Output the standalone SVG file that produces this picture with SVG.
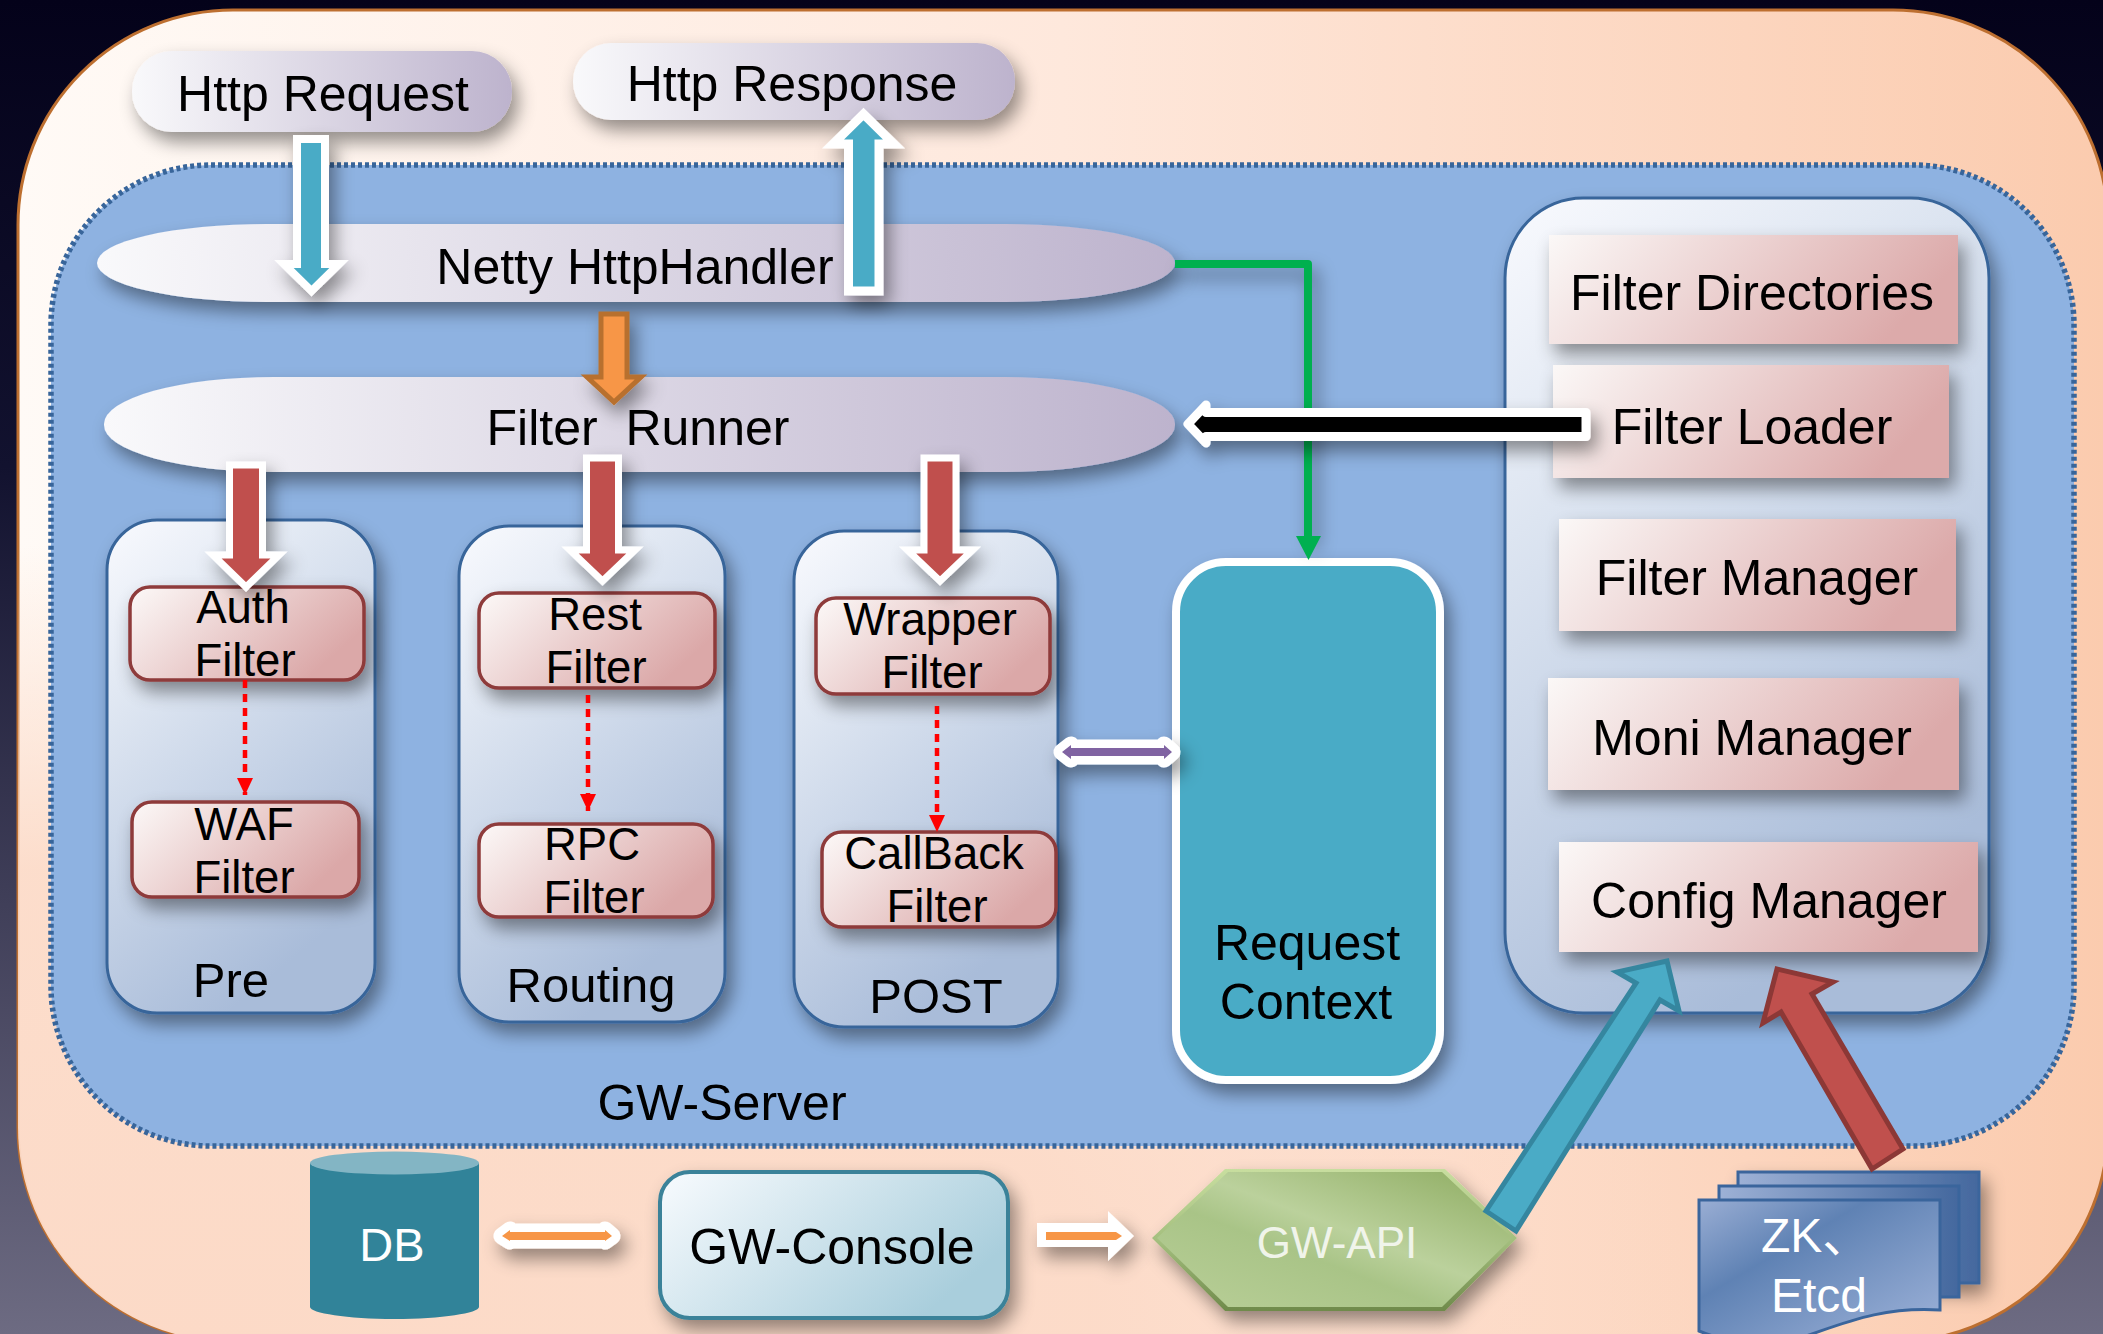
<svg xmlns="http://www.w3.org/2000/svg" width="2103" height="1334" viewBox="0 0 2103 1334">
<style>
text{font-family:"Liberation Sans",Arial,"Noto Sans CJK SC",sans-serif;font-size:50px;text-anchor:middle;fill:#000}
.f{font-size:45.5px}
.l{font-size:49px}
.w{fill:#fff}
.sh{filter:url(#s)}
.pill{fill:url(#gPill)}
.col{fill:url(#gCol);stroke:#38659a;stroke-width:3}
.fb{fill:url(#gRed);stroke:#8e3a3a;stroke-width:3.5}
.mg{fill:url(#gRedSq)}
.a-w{stroke:#fff;stroke-miterlimit:8}
.teal{fill:#4aabc6}
.red{fill:#c0504d}
.dot{fill:none;stroke:#f00;stroke-width:4.5;stroke-dasharray:8 6;marker-end:url(#mRed)}
.dbl{stroke:#fff;stroke-width:17;stroke-linejoin:round;paint-order:stroke}
.doc{stroke:#3a659c;stroke-width:3}
</style>
<defs>
<filter id="s" x="0" y="0" width="2103" height="1334" filterUnits="userSpaceOnUse"><feDropShadow dx="6" dy="10" stdDeviation="9" flood-color="#000" flood-opacity="0.42"/></filter>
<linearGradient id="gBg" x1="0" y1="0" x2="0" y2="1"><stop offset="0" stop-color="#04021a"/><stop offset=".35" stop-color="#12122f"/><stop offset="1" stop-color="#6d6b82"/></linearGradient>
<linearGradient id="gOuter" x1="0" y1="0" x2="1" y2="0"><stop offset="0" stop-color="#fffaf6"/><stop offset=".5" stop-color="#fee8dc"/><stop offset="1" stop-color="#fbcbae"/></linearGradient>
<radialGradient id="gOuter2" gradientUnits="userSpaceOnUse" cx="200" cy="1340" r="1" gradientTransform="translate(200 1340) scale(1500 800) translate(-200 -1340)"><stop offset="0" stop-color="#fcdac7" stop-opacity="1"/><stop offset=".6" stop-color="#fcdac7" stop-opacity=".9"/><stop offset="1" stop-color="#fcdac7" stop-opacity="0"/></radialGradient>
<linearGradient id="gPill" x1="0" y1="0" x2="1" y2="0"><stop offset="0" stop-color="#f9f9fb"/><stop offset="1" stop-color="#bdb3cd"/></linearGradient>
<linearGradient id="gCol" x1="0" y1="0" x2=".45" y2="1"><stop offset="0" stop-color="#f9fafe"/><stop offset=".35" stop-color="#dde5f1"/><stop offset="1" stop-color="#a9bcd9"/></linearGradient>
<linearGradient id="gRed" x1="0" y1="0" x2="1" y2=".45"><stop offset="0" stop-color="#fcf9f8"/><stop offset="1" stop-color="#dba8a8"/></linearGradient>
<linearGradient id="gRedSq" x1="0" y1="0" x2="1" y2=".25"><stop offset="0" stop-color="#fbf8f7"/><stop offset="1" stop-color="#dcaaaa"/></linearGradient>
<linearGradient id="gCon" x1="0" y1="0" x2="1" y2=".5"><stop offset="0" stop-color="#f8fbfe"/><stop offset="1" stop-color="#a9ceDc"/></linearGradient>
<linearGradient id="gHexO" x1="0" y1="0" x2="0" y2="1"><stop offset="0" stop-color="#c8de9f"/><stop offset=".5" stop-color="#a4bf7e"/><stop offset="1" stop-color="#6f8a4b"/></linearGradient>
<linearGradient id="gHex" x1="1" y1="0" x2="0" y2="1"><stop offset="0" stop-color="#8dab60"/><stop offset=".45" stop-color="#bbd19c"/><stop offset=".6" stop-color="#a9c487"/><stop offset="1" stop-color="#b9cf98"/></linearGradient>
<linearGradient id="gDocB" x1="0" y1="0" x2="1" y2="0"><stop offset="0" stop-color="#9db1d6"/><stop offset="1" stop-color="#44689e"/></linearGradient>
<linearGradient id="gDoc" x1="0" y1="0" x2="1" y2="1"><stop offset="0" stop-color="#9aaed4"/><stop offset=".35" stop-color="#5f82b4"/><stop offset="1" stop-color="#a0b4da"/></linearGradient>
<marker id="mRed" markerUnits="userSpaceOnUse" markerWidth="18" markerHeight="18" refX="17" refY="9" orient="auto"><path d="M0 1L17 9L0 17Z" fill="#f00"/></marker>
</defs>
<rect width="2103" height="1334" fill="url(#gBg)"/>
<g id="outer">
<rect x="18" y="10" width="2090" height="1332" rx="215" ry="215" fill="url(#gOuter)" stroke="#bd6f30" stroke-width="3"/>
<rect x="18" y="10" width="2090" height="1332" rx="215" ry="215" fill="url(#gOuter2)"/>
</g>
<g id="gw-server">
<rect x="51" y="165" width="2023" height="981" rx="160" ry="160" fill="#8eb2e1" stroke="#38659a" stroke-width="5.500" stroke-dasharray="4 3"/>
<text x="722" y="1120">GW-Server</text>
</g>
<g id="http-request"><rect class="pill sh" x="132" y="51" width="380" height="81" rx="40"/><text x="323" y="111">Http Request</text></g>
<g id="http-response"><rect class="pill sh" x="573" y="43" width="442" height="77" rx="38"/><text x="792" y="101">Http Response</text></g>
<g id="netty"><rect class="pill sh" x="97" y="224" width="1078" height="78" rx="170" ry="39"/><text x="635" y="284">Netty HttpHandler</text></g>
<g id="filter-runner"><rect class="pill sh" x="104" y="377" width="1071" height="95" rx="170" ry="47"/><text x="638" y="445" style="white-space:pre">Filter  Runner</text></g>
<g id="pre"><rect class="col sh" x="107" y="520" width="268" height="493" rx="50"/><text class="l" x="231" y="997">Pre</text></g>
<g id="routing"><rect class="col sh" x="459" y="526" width="266" height="496" rx="50"/><text class="l" x="591" y="1002">Routing</text></g>
<g id="post"><rect class="col sh" x="794" y="531" width="264" height="496" rx="50"/><text class="l" x="936" y="1013">POST</text></g>
<g id="auth"><rect class="fb sh" x="130" y="587" width="234" height="93" rx="20"/><text class="f" x="243" y="623">Auth</text><text class="f" x="245" y="676">Filter</text></g>
<g id="waf"><rect class="fb sh" x="132" y="802" width="227" height="95" rx="20"/><text class="f" x="244" y="840">WAF</text><text class="f" x="244" y="893">Filter</text></g>
<g id="rest"><rect class="fb sh" x="479" y="593" width="236" height="95" rx="20"/><text class="f" x="595" y="630">Rest</text><text class="f" x="596" y="683">Filter</text></g>
<g id="rpc"><rect class="fb sh" x="479" y="824" width="234" height="93" rx="20"/><text class="f" x="592" y="860">RPC</text><text class="f" x="594" y="913">Filter</text></g>
<g id="wrapper"><rect class="fb sh" x="816" y="598" width="234" height="96" rx="20"/><text class="f" x="930" y="635">Wrapper</text><text class="f" x="932" y="688">Filter</text></g>
<g id="callback"><rect class="fb sh" x="822" y="832" width="234" height="95" rx="20"/><text class="f" x="934" y="869">CallBack</text><text class="f" x="937" y="922">Filter</text></g>
<g id="request-context"><rect class="sh" x="1176" y="562" width="264" height="518" rx="50" fill="#4aabc6" stroke="#fff" stroke-width="8"/><text x="1307" y="960">Request</text><text x="1306" y="1019">Context</text></g>
<g id="filter-panel"><rect class="col sh" x="1505" y="198" width="484" height="815" rx="78" ry="80"/></g>
<g id="filter-directories"><rect class="mg sh" x="1549" y="235" width="409" height="109"/><text x="1752" y="310">Filter Directories</text></g>
<g id="filter-loader"><rect class="mg sh" x="1553" y="365" width="396" height="113"/><text x="1752" y="444">Filter Loader</text></g>
<g id="filter-manager"><rect class="mg sh" x="1559" y="519" width="397" height="112"/><text x="1757" y="595">Filter Manager</text></g>
<g id="moni-manager"><rect class="mg sh" x="1548" y="678" width="411" height="112"/><text x="1752" y="755">Moni Manager</text></g>
<g id="config-manager"><rect class="mg sh" x="1559" y="842" width="419" height="110"/><text x="1769" y="918">Config Manager</text></g>
<g id="db"><path d="M310 1163V1307C310 1313 347 1319 394.500 1319S479 1313 479 1307V1163Z" fill="#318399"/><ellipse cx="394.500" cy="1163" rx="84.500" ry="11.500" fill="#83b5c4"/><text class="w" style="font-size:47px" x="392" y="1261">DB</text></g>
<g id="gw-console"><rect class="sh" x="660" y="1172" width="348" height="146" rx="30" fill="url(#gCon)" stroke="#3b8299" stroke-width="4"/><text x="832" y="1264">GW-Console</text></g>
<g id="gw-api"><polygon class="sh" points="1152,1238 1225,1169 1445,1169 1517,1238 1445,1311 1225,1311" fill="url(#gHexO)"/><polygon points="1157,1238 1228,1172 1442,1172 1512,1238 1442,1307 1228,1307" fill="url(#gHex)"/><text x="1337" y="1258" style="font-size:44px;fill:#f0f4ea">GW-API</text></g>
<g id="zk-etcd"><rect class="doc sh" x="1738" y="1172" width="241" height="111" fill="url(#gDocB)"/><rect class="doc" x="1719" y="1186" width="240" height="111" fill="url(#gDocB)"/><path class="doc" d="M1699 1200H1940V1310C1880 1306 1840 1325 1800 1338C1760 1345 1725 1342 1699 1331Z" fill="url(#gDoc)"/><text class="w" style="font-size:48px;text-anchor:start" x="1761" y="1252">ZK、</text><text class="w" style="font-size:48px" x="1819" y="1312">Etcd</text></g>
<g id="connectors">
<path class="sh" d="M1175 264H1308V540" fill="none" stroke="#00b050" stroke-width="8" stroke-linejoin="round"/>
<path d="M1296 536H1321L1308.500 560Z" fill="#00b050"/>
<path class="teal a-w sh" stroke-width="8" d="M297 139H325V264H339L311.500 291L284 264H297Z"/>
<path class="teal a-w sh" stroke-width="9" d="M848.500 291V144H833L863.500 114L894 144H879V291Z"/>
<path class="sh" d="M601 314H627V377H641L614 402L587 377H601Z" fill="#f79646" stroke="#b8702f" stroke-width="5" stroke-miterlimit="8"/>
<path class="red a-w sh" stroke-width="7" d="M229.500 465H262.500V555H279L246 587L213 555H229.500Z"/>
<path class="red a-w sh" stroke-width="7" d="M586.500 458H618.500V550H635L602.500 581L570 550H586.500Z"/>
<path class="red a-w sh" stroke-width="7" d="M924 458H956V550H972.500L940 581L907.500 550H924Z"/>
<path class="sh" d="M1586 412.500H1206V405L1188 424L1206 443V436.500H1586Z" fill="#000" stroke="#fff" stroke-width="9" stroke-linejoin="round"/>
<path class="dot" d="M245 680V795"/>
<path class="dot" d="M588 695V811"/>
<path class="dot" d="M937 706V832"/>
<path class="dbl sh" fill="#8064a2" d="M1062 752L1071 745V748H1164V745L1172 752L1164 759V756H1071V759Z"/>
<path class="dbl sh" fill="#f79646" d="M502 1236L510 1230V1232H605V1230L612 1236L605 1241V1240H510V1241Z"/>
<polygon class="sh" points="1037,1223 1108,1223 1108,1211 1134,1236 1108,1261 1108,1247 1037,1247" fill="#fff"/>
<polygon points="1046,1232 1116,1232 1122,1236 1116,1240 1046,1240" fill="#f79646"/>
<path d="M1486 1211L1516 1231L1660 1000L1679 1011L1667 961L1617 972L1636 983Z" class="teal" stroke="#35869f" stroke-width="5" stroke-miterlimit="8"/>
<path d="M1872 1169L1903 1149L1812 994L1833 982L1777 969L1763 1023L1781 1012Z" class="red" stroke="#8c3836" stroke-width="5" stroke-miterlimit="8"/>
</g>
</svg>
